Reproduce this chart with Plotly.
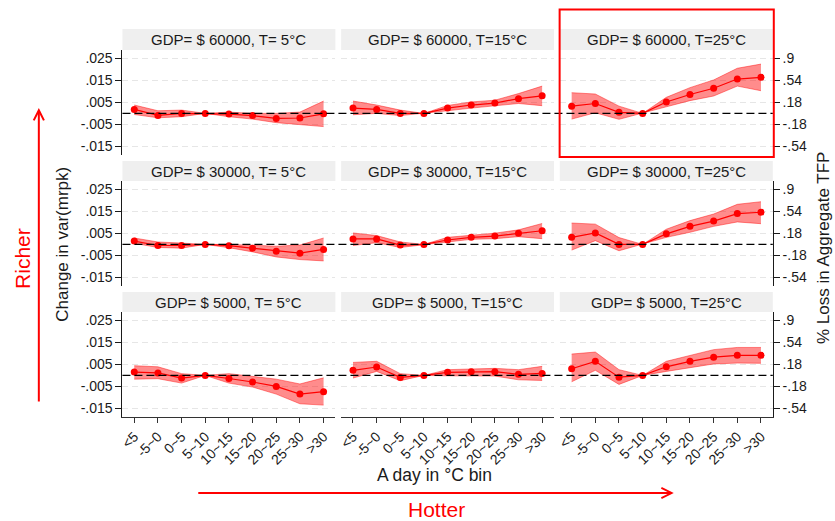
import plotly.graph_objects as go

# ---------------- data ----------------
BINS = ["<5", "-5~0", "0~5", "5~10", "10~15", "15~20", "20~25", "25~30", ">30"]
GDP_LEVELS = ["60000", "30000", "5000"]          # rows, top to bottom
TEMPS = [" 5", "15", "25"]                        # columns, left to right
Y_TICKS = [0.025, 0.015, 0.005, -0.005, -0.015]
Y_TICK_TEXT = [".025", ".015", ".005", "-.005", "-.015"]
TFP_TICKS = [0.9, 0.54, 0.18, -0.18, -0.54]
TFP_TICK_TEXT = [".9", ".54", ".18", "-.18", "-.54"]
TFP_PER_MRPK = 36.0
Y_RANGE = [-0.0189, 0.0288]

# GDP 60000
est_60000_5 = [0.0018, -0.0009, 0.0000, 0.0, -0.0003, -0.0010, -0.0023, -0.0021, -0.0002]
hi_60000_5 = [0.0038, 0.0012, 0.0015, 0.0, 0.0006, 0.0000, 0.0000, 0.0006, 0.0056]
lo_60000_5 = [-0.0005, -0.0020, -0.0015, 0.0, -0.0015, -0.0026, -0.0042, -0.0050, -0.0060]

est_60000_15 = [0.0024, 0.0018, 0.0000, 0.0, 0.0024, 0.0038, 0.0047, 0.0067, 0.0080]
hi_60000_15 = [0.0056, 0.0038, 0.0015, 0.0, 0.0036, 0.0052, 0.0060, 0.0090, 0.0124]
lo_60000_15 = [-0.0006, 0.0000, -0.0010, 0.0, 0.0012, 0.0024, 0.0033, 0.0045, 0.0035]

est_60000_25 = [0.0033, 0.0045, 0.0005, 0.0, 0.0052, 0.0086, 0.0114, 0.0156, 0.0164]
hi_60000_25 = [0.0094, 0.0088, 0.0033, 0.0, 0.0073, 0.0117, 0.0152, 0.0205, 0.0224]
lo_60000_25 = [-0.0026, 0.0003, -0.0027, 0.0, 0.0030, 0.0058, 0.0079, 0.0124, 0.0103]

# GDP 30000
est_30000_5 = [0.0015, -0.0005, -0.0005, 0.0, -0.0006, -0.0017, -0.0031, -0.0040, -0.0023]
hi_30000_5 = [0.0029, 0.0011, 0.0006, 0.0, 0.0000, -0.0005, -0.0008, -0.0003, 0.0029]
lo_30000_5 = [0.0005, -0.0014, -0.0017, 0.0, -0.0015, -0.0034, -0.0057, -0.0069, -0.0075]

est_30000_15 = [0.0025, 0.0025, -0.0003, 0.0, 0.0020, 0.0032, 0.0038, 0.0051, 0.0062]
hi_30000_15 = [0.0052, 0.0040, 0.0011, 0.0, 0.0032, 0.0043, 0.0051, 0.0066, 0.0095]
lo_30000_15 = [-0.0005, 0.0008, -0.0014, 0.0, 0.0011, 0.0023, 0.0026, 0.0035, 0.0026]

est_30000_25 = [0.0032, 0.0052, 0.0000, 0.0, 0.0048, 0.0082, 0.0106, 0.0140, 0.0146]
hi_30000_25 = [0.0097, 0.0092, 0.0031, 0.0, 0.0069, 0.0108, 0.0138, 0.0182, 0.0194]
lo_30000_25 = [-0.0026, 0.0017, -0.0029, 0.0, 0.0032, 0.0055, 0.0082, 0.0102, 0.0094]

# GDP 5000
est_5000_5 = [0.0015, 0.0011, -0.0012, 0.0, -0.0014, -0.0030, -0.0050, -0.0085, -0.0074]
hi_5000_5 = [0.0044, 0.0039, 0.0008, 0.0, 0.0008, -0.0005, -0.0017, -0.0039, -0.0011]
lo_5000_5 = [-0.0017, -0.0015, -0.0035, 0.0, -0.0035, -0.0053, -0.0085, -0.0129, -0.0135]

est_5000_15 = [0.0023, 0.0038, -0.0009, 0.0, 0.0014, 0.0017, 0.0017, 0.0005, 0.0009]
hi_5000_15 = [0.0059, 0.0064, 0.0008, 0.0, 0.0026, 0.0030, 0.0032, 0.0026, 0.0041]
lo_5000_15 = [-0.0012, 0.0018, -0.0024, 0.0, -0.0002, -0.0002, -0.0003, -0.0020, -0.0023]

est_5000_25 = [0.0030, 0.0064, -0.0008, 0.0, 0.0039, 0.0064, 0.0083, 0.0091, 0.0091]
hi_5000_25 = [0.0097, 0.0106, 0.0026, 0.0, 0.0064, 0.0092, 0.0117, 0.0127, 0.0127]
lo_5000_25 = [-0.0029, 0.0023, -0.0041, 0.0, 0.0018, 0.0036, 0.0052, 0.0056, 0.0055]

PANELS = [
    [(est_60000_5, lo_60000_5, hi_60000_5), (est_60000_15, lo_60000_15, hi_60000_15), (est_60000_25, lo_60000_25, hi_60000_25)],
    [(est_30000_5, lo_30000_5, hi_30000_5), (est_30000_15, lo_30000_15, hi_30000_15), (est_30000_25, lo_30000_25, hi_30000_25)],
    [(est_5000_5, lo_5000_5, hi_5000_5), (est_5000_15, lo_5000_15, hi_5000_15), (est_5000_25, lo_5000_25, hi_5000_25)],
]

# ---------------- layout geometry (pixels) ----------------
W, H = 835, 521
COL_X = [(119, 333), (338.8, 552.6), (558.5, 772.5)]
ROW_Y = [(50, 155), (181, 286), (312, 417)]      # plot top, bottom
STRIP_TOP = [29, 161, 292]

def px(x):
    return x / W

def py(y):
    return 1 - y / H

FONT = "Liberation Sans, Arial, Helvetica, sans-serif"
RED = "#ff0000"

fig = go.Figure()
layout = dict(
    width=W, height=H,
    margin=dict(l=0, r=0, t=0, b=0),
    paper_bgcolor="white", plot_bgcolor="white",
    showlegend=False,
    font=dict(family=FONT, size=14, color="#1a1a1a"),
)
shapes = []
annotations = []

for r in range(3):
    for c in range(3):
        i = r * 3 + c + 1
        xa = "x" if i == 1 else f"x{i}"
        ya = "y" if i == 1 else f"y{i}"
        est, lo, hi = PANELS[r][c]
        fig.add_trace(go.Scatter(x=BINS, y=hi, mode="lines", xaxis=xa, yaxis=ya,
                                 line=dict(color="rgba(255,0,0,0.55)", width=0.8),
                                 hoverinfo="skip"))
        fig.add_trace(go.Scatter(x=BINS, y=lo, mode="lines", xaxis=xa, yaxis=ya,
                                 fill="tonexty", fillcolor="rgba(255,0,0,0.45)",
                                 line=dict(color="rgba(255,0,0,0.55)", width=0.8),
                                 hoverinfo="skip"))
        fig.add_trace(go.Scatter(x=BINS, y=est, mode="lines+markers", xaxis=xa, yaxis=ya,
                                 line=dict(color=RED, width=1.2),
                                 marker=dict(color=RED, size=7)))

        x0, x1 = COL_X[c]
        yt, yb = ROW_Y[r]
        bottom = r == 2
        layout["xaxis" if i == 1 else f"xaxis{i}"] = dict(
            domain=[px(x0), px(x1)], anchor=ya, type="category",
            categoryorder="array", categoryarray=BINS,
            range=[-0.5, len(BINS) - 0.5],
            showgrid=False, zeroline=False,
            showline=bottom, linecolor="#333333", linewidth=1,
            ticks="outside" if bottom else "", ticklen=5, tickcolor="#333333",
            showticklabels=bottom, tickangle=-45,
            tickfont=dict(size=14, color="#1a1a1a"),
        )
        yax = dict(
            domain=[py(yb), py(yt)], anchor=xa, range=Y_RANGE,
            tickvals=Y_TICKS, ticktext=Y_TICK_TEXT,
            showgrid=True, gridcolor="#e6e6e6", gridwidth=1, griddash="6px,4px",
            zeroline=False, showline=False, ticks="", showticklabels=False,
            tickfont=dict(size=14, color="#1a1a1a"),
        )
        if c == 0:
            yax.update(showline=True, linecolor="#1a1a1a", linewidth=1,
                       ticks="outside", ticklen=6, tickcolor="#1a1a1a",
                       showticklabels=True)
        if c == 2:
            yax.update(side="right",
                       tickvals=[t / TFP_PER_MRPK for t in TFP_TICKS], ticktext=TFP_TICK_TEXT,
                       showline=True, linecolor="#1a1a1a", linewidth=1,
                       ticks="outside", ticklen=6, tickcolor="#1a1a1a",
                       showticklabels=True)
        layout["yaxis" if i == 1 else f"yaxis{i}"] = yax

        # strip header
        shapes.append(dict(type="rect", xref="paper", yref="paper",
                           x0=px(x0), x1=px(x1), y0=py(yt), y1=py(STRIP_TOP[r]),
                           fillcolor="#efefef", line=dict(width=0), layer="below"))
        annotations.append(dict(
            xref="paper", yref="paper", x=px((x0 + x1) / 2), y=py((STRIP_TOP[r] + yt) / 2),
            text=f"GDP= $ {GDP_LEVELS[r]}, T={TEMPS[c]}°C", showarrow=False,
            font=dict(size=15, color="#1a1a1a"), xanchor="center", yanchor="middle"))

    # zero reference line across the row
    ya_row = "y" if r == 0 else f"y{r * 3 + 1}"
    shapes.append(dict(type="line", xref="paper", yref=ya_row,
                       x0=px(COL_X[0][0]), x1=px(COL_X[2][1]), y0=0, y1=0,
                       line=dict(color="black", width=1.3, dash="8px,4px")))

# highlight box
shapes.append(dict(type="rect", xref="paper", yref="paper",
                   x0=px(558.3), x1=px(773.5), y0=py(157), y1=py(9.5),
                   line=dict(color=RED, width=2), fillcolor="rgba(0,0,0,0)"))

# titles
annotations += [
    dict(xref="paper", yref="paper", x=px(58), y=py(244), text="Change in var(mrpk)",
         textangle=-90, showarrow=False, font=dict(size=17, color="#1a1a1a"),
         xanchor="center", yanchor="middle"),
    dict(xref="paper", yref="paper", x=px(823), y=py(248), text="% Loss in Aggregate TFP",
         textangle=-90, showarrow=False, font=dict(size=17, color="#1a1a1a"),
         xanchor="center", yanchor="middle"),
    dict(xref="paper", yref="paper", x=px(433), y=py(475), text="A day in °C bin",
         showarrow=False, font=dict(size=17.5, color="#1a1a1a"),
         xanchor="center", yanchor="middle"),
    dict(xref="paper", yref="paper", x=px(18), y=py(258), text="Richer",
         textangle=-90, showarrow=False, font=dict(size=21, color=RED),
         xanchor="center", yanchor="middle"),
    dict(xref="paper", yref="paper", x=px(435), y=py(509), text="Hotter",
         showarrow=False, font=dict(size=21, color=RED),
         xanchor="center", yanchor="middle"),
    # arrows
    dict(xref="paper", yref="paper", x=px(35), y=py(108), ax=0, ay=295,
         text="", showarrow=True, arrowhead=5, arrowsize=1, arrowwidth=2,
         arrowcolor=RED, standoff=0),
    dict(xref="paper", yref="paper", x=px(673), y=py(493), ax=-477, ay=0,
         text="", showarrow=True, arrowhead=5, arrowsize=1, arrowwidth=2,
         arrowcolor=RED, standoff=0),
]

layout["shapes"] = shapes
layout["annotations"] = annotations
fig.update_layout(**layout)
fig.write_html(
    "out.html",
    config={"displayModeBar": False},
    post_script="document.body.style.margin='0px';document.body.style.padding='0px';"
                "document.body.style.overflow='hidden';",
)
